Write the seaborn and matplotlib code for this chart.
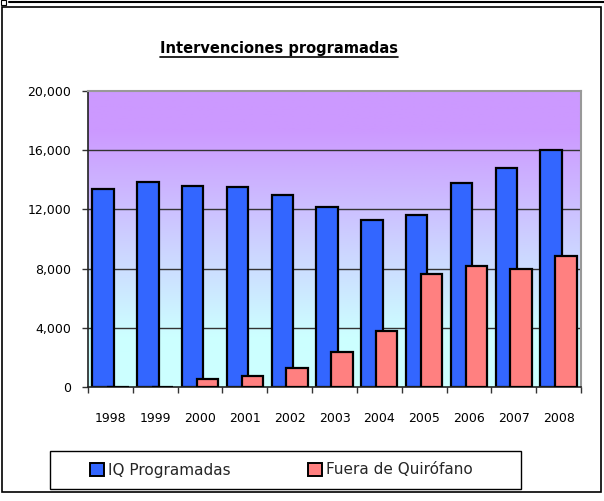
import numpy as np
import pandas as pd
import matplotlib
matplotlib.use("Agg")
import matplotlib.pyplot as plt
import seaborn as sns
from matplotlib.colors import LinearSegmentedColormap
from matplotlib.patches import Rectangle, Patch
from matplotlib.lines import Line2D

# ---- data ----
years = [1998, 1999, 2000, 2001, 2002, 2003, 2004, 2005, 2006, 2007, 2008]
iq_programadas = [13370, 13850, 13600, 13530, 12990, 12180, 11300, 11600, 13800, 14790, 16030]
fuera_quirofano = [0, 0, 540, 740, 1270, 2370, 3790, 7640, 8180, 7980, 8840]
yticks = [0, 4000, 8000, 12000, 16000, 20000]
title = "Intervenciones programadas"
series_names = ["IQ Programadas", "Fuera de Quirófano"]

blue = "#3366FF"
pink = "#FF8080"

sns.set_theme(style="white")
plt.rcParams['font.family'] = ['DejaVu Sans']

fig = plt.figure(figsize=(6.04, 5.01), dpi=100)
W, H = 604, 501
ax = fig.add_axes([88 / W, 1 - 387 / H, (581 - 88) / W, (387 - 91) / H])

# gradient background
cmap = LinearSegmentedColormap.from_list(
    "bg", [(0.0, "#CCFFFF"), (0.17, "#CCFFFF"), (0.87, "#CC99FF"), (1.0, "#CC99FF")])
grad = np.linspace(0, 1, 256).reshape(-1, 1)
ax.imshow(grad, cmap=cmap, aspect="auto", extent=[0, 1, 0, 1], origin="lower",
          transform=ax.transAxes, zorder=0)

yrs = np.array(years, dtype=float)
off = 0.165
df_a = pd.DataFrame({"x": yrs - off, "y": iq_programadas})
df_b = pd.DataFrame({"x": yrs + off, "y": fuera_quirofano})
sns.barplot(data=df_a, x="x", y="y", native_scale=True, width=0.48, color=blue,
            saturation=1, edgecolor="black", linewidth=1.6, ax=ax, zorder=2)
sns.barplot(data=df_b, x="x", y="y", native_scale=True, width=0.48, color=pink,
            saturation=1, edgecolor="black", linewidth=1.6, ax=ax, zorder=3)

ax.set_xlim(years[0] - 0.5, years[-1] + 0.5)
ax.set_ylim(0, 20000)
ax.set_xlabel("")
ax.set_ylabel("")

# gridlines
for v in yticks[1:-1]:
    ax.axhline(v, color="#333333", lw=1.0, zorder=1)

ax.set_yticks(yticks)
ax.set_yticklabels([f"{v:,}" for v in yticks], fontsize=9)
ax.set_xticks(years)
ax.set_xticklabels([str(y) for y in years], fontsize=9)
ax.set_xticks(np.arange(years[0] - 0.5, years[-1] + 1.0, 1.0), minor=True)
ax.tick_params(axis="x", which="major", length=0, pad=18, colors="black")
ax.tick_params(axis="x", which="minor", length=4, width=1, color="#333333", direction="out", bottom=True)
ax.tick_params(axis="y", which="major", length=4, width=1, color="#333333", direction="out", left=True, pad=8, colors="black")
ax.tick_params(axis="y", labelcolor="black")

for s in ["left", "bottom"]:
    ax.spines[s].set_color("#222222")
    ax.spines[s].set_linewidth(1.2)
for s in ["top", "right"]:
    ax.spines[s].set_color("#999999")
    ax.spines[s].set_linewidth(1.5)

# outer frame
fig.add_artist(Rectangle((2 / W, 1 - 492 / H), 599 / W, 485 / H, transform=fig.transFigure,
                         fill=False, edgecolor="black", lw=1.2))
fig.add_artist(Line2D([9 / W, 1], [1 - 1.5 / H, 1 - 1.5 / H], transform=fig.transFigure,
                      color="black", lw=1.5))
fig.add_artist(Rectangle((0.5 / W, 1 - 5 / H), 5 / W, 4.5 / H, transform=fig.transFigure,
                         fill=False, edgecolor="black", lw=0.8))

# title with underline
t = fig.text(279 / W, 1 - 48 / H, title, ha="center", va="center", fontsize=10.5,
             fontweight="bold", color="black")
fig.canvas.draw()
bb = t.get_window_extent(renderer=fig.canvas.get_renderer()).transformed(fig.transFigure.inverted())
fig.add_artist(Line2D([bb.x0, bb.x1], [bb.y0 - 1 / H, bb.y0 - 1 / H], transform=fig.transFigure,
                      color="black", lw=1.2))

# legend box
fig.add_artist(Rectangle((50 / W, 1 - 489 / H), (521 - 50) / W, 38 / H, transform=fig.transFigure,
                         fill=True, facecolor="white", edgecolor="black", lw=1.0, zorder=4))
handles = [Patch(facecolor=blue, edgecolor="black", lw=1.4),
           Patch(facecolor=pink, edgecolor="black", lw=1.4)]
leg = fig.legend(handles, series_names, loc="center left",
                 bbox_to_anchor=(90 / W, 1 - 470 / H),
                 ncol=2, fontsize=11, frameon=False,
                 handlelength=0.92, handleheight=0.92, handletextpad=0.25,
                 borderaxespad=0, borderpad=0, columnspacing=5.1)
leg.set_zorder(5)

fig.savefig("out.png", dpi=100)
